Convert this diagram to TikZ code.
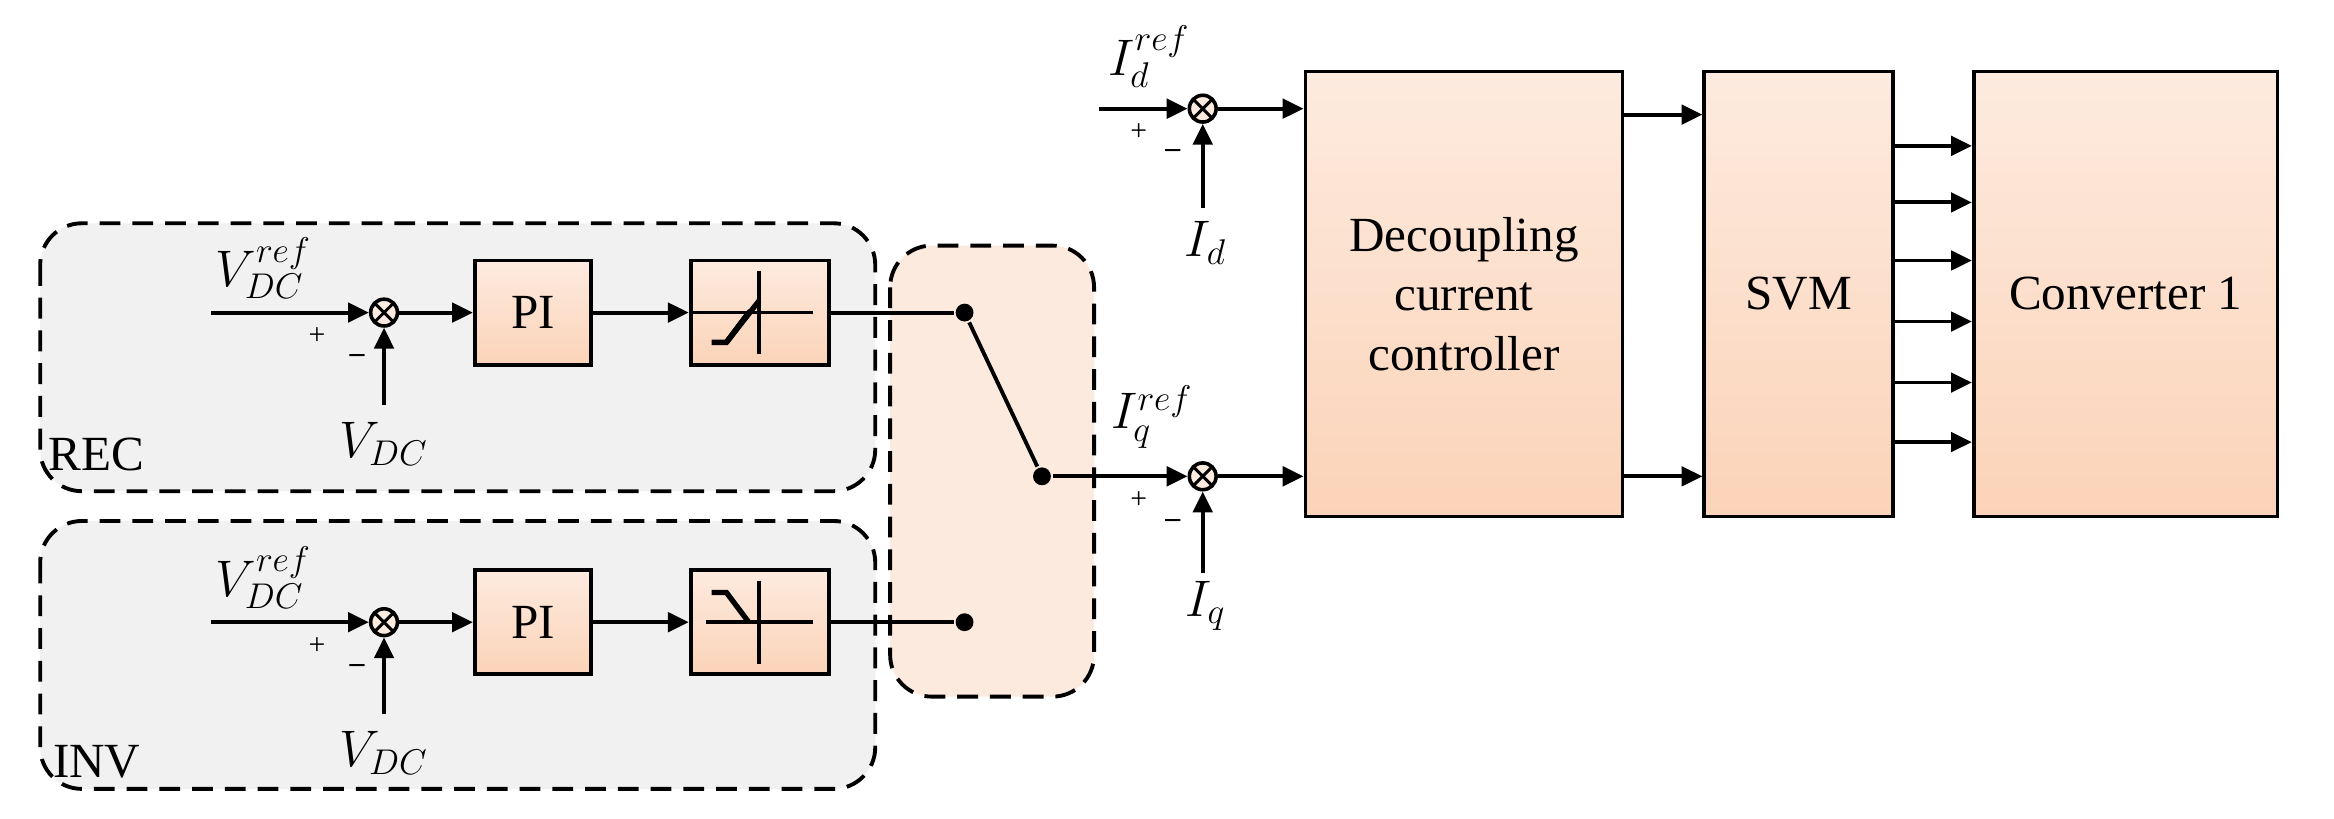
\documentclass[tikz,border=0pt]{standalone}
\usepackage{fontspec}
\setmainfont{Liberation Serif}
\usetikzlibrary{arrows.meta}
\definecolor{og1}{HTML}{FDEBDF}
\definecolor{og2}{HTML}{FBD3B8}
\definecolor{grayf}{HTML}{F1F1F1}
\definecolor{orf}{HTML}{FDEADE}
\begin{document}
\begin{tikzpicture}[x=0.5pt,y=-0.5pt,line width=1.3pt,
 >={Triangle[length=7pt,width=6.5pt]},
 blk/.style={draw,line width=1.3pt,top color=og1,bottom color=og2,inner sep=0pt,font=\fontsize{16.5}{20}\selectfont,align=center},
 sum/.style={circle,draw,line width=1.2pt,fill=og1,minimum size=9pt,inner sep=0pt,path picture={\draw[line width=1pt] (path picture bounding box.north west)--(path picture bounding box.south east) (path picture bounding box.north east)--(path picture bounding box.south west);}},
 lbl/.style={font=\fontsize{16.5}{20}\selectfont},
 sm/.style={font=\fontsize{10}{12}\selectfont},
 dashbox/.style={draw,dash pattern=on 7pt off 4pt,line width=1.3pt,rounded corners=14pt},
 dot/.style={circle,fill,inner sep=0pt,minimum size=6pt}]
\useasboundingbox (0,0) rectangle (1568,550);
\fill[white] (0,0) rectangle (1568,550);
% boxes
\draw[dashbox,fill=grayf] (27,150) rectangle (588,330);
\draw[dashbox,fill=grayf] (27,350) rectangle (588,530);
\draw[dashbox,fill=orf] (598,165) rectangle (735,468);
\node[lbl] (rec) at (65,305) {REC};
\node[lbl] (inv) at (65,512) {INV};
\foreach \n/\y/\s in {r/210/1,i/418/-1}{
 \coordinate (\n in) at (142,\y);
 \node[sum] (\n s) at (258,\y) {};
 \node[blk,minimum width=39pt,minimum height=35pt] (\n pi) at (358,\y) {PI};
 \node[blk,minimum width=46.5pt,minimum height=35pt] (\n lim) at (510.5,\y) {};
 \node[dot] (\n d) at (648,\y) {};
 \node[lbl] (\n ref) at (177,\y-30) {$V_{DC}^{ref}$};
 \node[lbl] (\n v) at (258,\y+88) {$V_{DC}$};
 \node[sm] (\n p) at (213,\y+16) {+};
 \node[sm] (\n m) at (240,\y+31) {\textbf{--}};
 \coordinate (\n vb) at (258,\y+62);
 \draw[->] (\n in) -- (\n s);
 \draw[->] (\n vb) -- (\n s);
 \draw[->] (\n s) -- (\n pi);
 \draw[->] (\n pi) -- (\n lim);
 \draw (\n lim) -- (\n d);
 \draw[line width=1.2pt] (474,\y) -- (546,\y) (510,\y-28) -- (510,\y+28);
 \draw[line width=1.8pt] (478,\y+20*\s) -- (488,\y+20*\s) -- (503,\y-0*\s) ;
}
\draw[line width=1.2pt] (rlim.center) -- (rlim.west) ;
\draw[line width=1.8pt] (488,230) -- (503,210) (503,210)--(504,209);
\draw[line width=1.8pt] (488,230)--(510,202);
\draw[white,line width=0pt] (0,0);
\node[dot] (sw) at (700,320) {};
\draw (rd) -- (sw);
% right part
\node[sum] (ds) at (808,73) {};
\node[sum] (qs) at (808,320) {};
\coordinate (din) at (738,73);
\coordinate (dfb) at (808,140);
\coordinate (qfb) at (808,385);
\node[lbl] (dref) at (772,38) {$I_d^{ref}$};
\node[lbl] (qref) at (774,280) {$I_q^{ref}$};
\node[lbl] (id) at (810,163) {$I_d$};
\node[lbl] (iq) at (810,407) {$I_q$};
\node[sm] at (765,89) {+};
\node[sm] at (765,336) {+};
\node[sm] at (788,103) {\textbf{--}};
\node[sm] at (788,352) {\textbf{--}};
\draw[->] (din) -- (ds);
\draw[->] (sw) -- (qs);
\draw[->] (dfb) -- (ds);
\draw[->] (qfb) -- (qs);
\node[blk,minimum width=106.5pt,minimum height=149.5pt] (dec) at (983.5,197.5) {Decoupling\\current\\controller};
\node[blk,minimum width=63.5pt,minimum height=149.5pt] (svm) at (1208.5,197.5) {SVM};
\node[blk,minimum width=102pt,minimum height=149.5pt] (conv) at (1428,197.5) {Converter 1};
\draw[->] (ds) -- (dec.west|-ds);
\draw[->] (qs) -- (dec.west|-qs);
\draw[->] (dec.east|-0,77) -- (svm.west|-0,77);
\draw[->] (dec.east|-0,320) -- (svm.west|-0,320);
\foreach \y in {98,136,175,216,257,297}
 \draw[->] (svm.east|-0,\y) -- (conv.west|-0,\y);
\end{tikzpicture}
\end{document}
